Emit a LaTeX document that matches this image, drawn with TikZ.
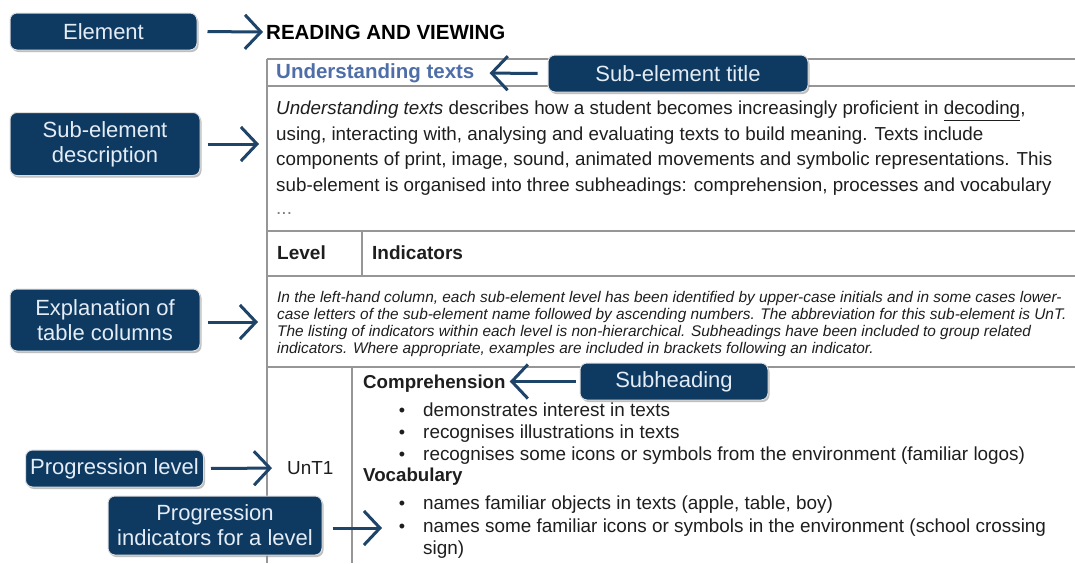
\documentclass[tikz,border=0pt]{standalone}
\usepackage{fontspec}
\setmainfont{Liberation Sans}
\usetikzlibrary{arrows.meta,shadows}
\definecolor{navy}{RGB}{14,58,98}
\definecolor{arrowblue}{RGB}{30,68,106}
\definecolor{titleblue}{RGB}{79,110,168}
\definecolor{rulegray}{RGB}{150,150,150}
\definecolor{calltext}{RGB}{228,236,245}
\definecolor{bodytext}{RGB}{30,30,30}
\tikzset{
  callout/.style={draw=white!75!gray, line width=1pt, fill=navy, rounded corners=7pt,
    text=calltext, font=\fontsize{22}{25}\selectfont, align=center, inner sep=0pt,
    drop shadow={shadow xshift=1.5pt, shadow yshift=-2pt, fill=black!45, opacity=0.55}},
  callarrow/.style={draw=arrowblue, line width=3pt,
    -{Straight Barb[length=16pt,width=34pt,line width=3pt]}},
  tablerule/.style={draw=rulegray, line width=1.3pt},
  txt/.style={inner sep=0pt, anchor=base west, text=bodytext},
  body/.style={txt, font=\fontsize{18.8}{22}\selectfont},
  ind/.style={txt, font=\fontsize{18.9}{22}\selectfont},
  expl/.style={txt, font=\fontsize{15.4}{17}\selectfont\itshape},
  bul/.style={inner sep=0pt, anchor=base, text=bodytext, font=\fontsize{18}{20}\selectfont},
}
\begin{document}
\begin{tikzpicture}[x=1pt,y=-1pt]
\useasboundingbox[fill=white] (0,0) rectangle (1075,563);

% table rules
\draw[tablerule] (267,59) -- (1075,59);
\draw[tablerule] (267,59) -- (267,563);
\draw[tablerule] (267,86) -- (1075,86);
\draw[tablerule] (267,231) -- (1075,231);
\draw[tablerule] (362,231) -- (362,276);
\draw[tablerule] (267,276) -- (1075,276);
\draw[tablerule] (267,367) -- (1075,367);
\draw[tablerule] (352,367) -- (352,563);

% texts
\node[txt, anchor=west, font=\fontsize{20.5}{24}\selectfont\bfseries, text=black] (reading) at (266,32) {READING AND VIEWING};
\node[txt, anchor=west, font=\fontsize{20.5}{24}\selectfont\bfseries, text=titleblue] (title) at (276,73) {Understanding texts};

\node[body] (d1) at (276,114.5) {\textit{Understanding texts} describes how a student becomes increasingly proficient in \underline{decoding},};
\node[body] (d2) at (276,140) {using, interacting with, analysing and evaluating texts to build meaning. Texts include};
\node[body] (d3) at (276,165.5) {components of print, image, sound, animated movements and symbolic representations. This};
\node[body] (d4) at (276,191) {sub-element is organised into three subheadings: comprehension, processes and vocabulary};
\node[txt, font=\fontsize{19}{20}\selectfont, text=gray] (d5) at (276,214) {...};

\node[txt, font=\fontsize{19}{22}\selectfont\bfseries] (level) at (277,259.5) {Level};
\node[txt, font=\fontsize{19}{22}\selectfont\bfseries] (indic) at (372,259.5) {Indicators};

\node[expl] (e1) at (277,302.5) {In the left-hand column, each sub-element level has been identified by upper-case initials and in some cases lower-};
\node[expl] (e2) at (277,319.5) {case letters of the sub-element name followed by ascending numbers. The abbreviation for this sub-element is UnT.};
\node[expl] (e3) at (277,336.5) {The listing of indicators within each level is non-hierarchical. Subheadings have been included to group related};
\node[expl] (e4) at (277,353.5) {indicators. Where appropriate, examples are included in brackets following an indicator.};

\node[ind, font=\fontsize{18.7}{22}\selectfont\bfseries] (comp) at (363,388) {Comprehension};
\node[bul] (b1) at (402,416) {\textbullet};
\node[ind] (i1) at (423,416) {demonstrates interest in texts};
\node[bul] (b2) at (402,438) {\textbullet};
\node[ind] (i2) at (423,438) {recognises illustrations in texts};
\node[bul] (b3) at (402,460) {\textbullet};
\node[ind] (i3) at (423,460) {recognises some icons or symbols from the environment (familiar logos)};
\node[ind, font=\fontsize{18.7}{22}\selectfont\bfseries] (voc) at (363,481) {Vocabulary};
\node[bul] (b4) at (402,509) {\textbullet};
\node[ind] (i4) at (423,509) {names familiar objects in texts (apple, table, boy)};
\node[bul] (b5) at (402,532) {\textbullet};
\node[ind] (i5) at (423,532) {names some familiar icons or symbols in the environment (school crossing};
\node[ind] (i6) at (423,554) {sign)};

\node[ind, anchor=west] (unt) at (287,468) {UnT1};

% callouts
\node[callout, minimum width=187pt, minimum height=37pt] (cElement) at (103.5,31.5) {Element};
\node[callout, minimum width=260pt, minimum height=37pt] (cTitle) at (678,73.5) {Sub-element title};
\node[callout, minimum width=190pt, minimum height=63pt] (cDesc) at (105,144) {Sub-element\\description};
\node[callout, minimum width=190pt, minimum height=62pt] (cExpl) at (105,320) {Explanation of\\table columns};
\node[callout, minimum width=188pt, minimum height=37pt] (cSub) at (674,381.5) {Subheading};
\node[callout, minimum width=178pt, minimum height=37pt] (cLevel) at (114.5,468.5) {Progression level};
\node[callout, minimum width=214pt, minimum height=59pt] (cInd) at (215,525.5) {Progression\\indicators for a level};

% arrow targets
\coordinate (tDesc) at (259,144);
\coordinate (tExpl) at (258,322);
\coordinate (tInd) at (382,528);

% arrows
\draw[callarrow, shorten <=10pt, shorten >=3pt] (cElement.east) -- (reading.west);
\draw[callarrow, shorten <=10pt, shorten >=15pt] (cTitle.west) -- (title.east);
\draw[callarrow, shorten <=7pt] (cDesc.east) -- (tDesc);
\draw[callarrow, shorten <=7pt] (cExpl.east |- tExpl) -- (tExpl);
\draw[callarrow, shorten <=4pt, shorten >=4pt] (cSub.west) -- (comp.east |- cSub.west);
\draw[callarrow, shorten <=7pt, shorten >=15pt] (cLevel.east) -- (unt.west);
\draw[callarrow, shorten <=10pt] (cInd.east |- tInd) -- (tInd);
\end{tikzpicture}
\end{document}
